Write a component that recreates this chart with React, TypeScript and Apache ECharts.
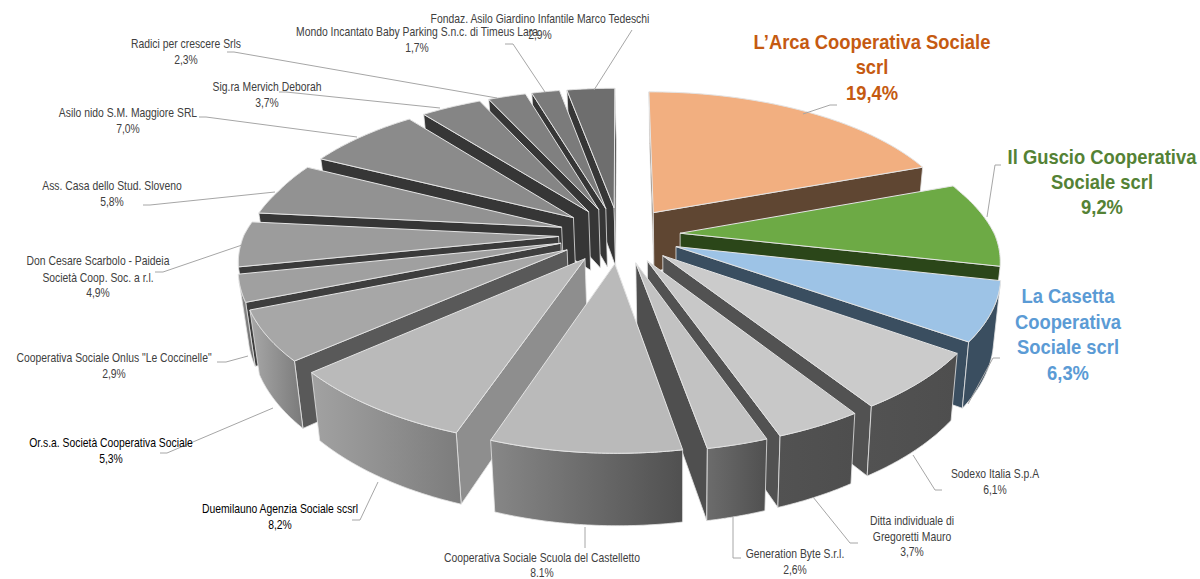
import React, { useEffect, useRef } from "react";
import * as echarts from "echarts";

// Quota per ente, clockwise from twelve o'clock
const sliceNames = [
  "L\u2019Arca Cooperativa Sociale scrl",
  "Il Guscio Cooperativa Sociale scrl",
  "La Casetta Cooperativa Sociale scrl",
  "Sodexo Italia S.p.A",
  "Ditta individuale di Gregoretti Mauro",
  "Generation Byte S.r.l.",
  "Cooperativa Sociale Scuola del Castelletto",
  "Duemilauno Agenzia Sociale scsrl",
  "Or.s.a. Societ\u00e0 Cooperativa Sociale",
  'Cooperativa Sociale Onlus "Le Coccinelle"',
  "Don Cesare Scarbolo - Paideia Societ\u00e0 Coop. Soc. a r.l.",
  "Ass. Casa dello Stud. Sloveno",
  "Asilo nido S.M. Maggiore SRL",
  "Sig.ra Mervich Deborah",
  "Radici per crescere Srls",
  "Mondo Incantato Baby Parking S.n.c. di Timeus Lara",
  "Fondaz. Asilo Giardino Infantile Marco Tedeschi",
];
const sliceValues = [19.4, 9.2, 6.3, 6.1, 3.7, 2.6, 8.1, 8.2, 5.3, 2.9, 4.9, 5.8, 7.0, 3.7, 2.3, 1.7, 2.9];
const percentLabels = [
  "19,4%", "9,2%", "6,3%", "6,1%", "3,7%", "2,6%", "8.1%", "8,2%", "5,3%",
  "2,9%", "4,9%", "5,8%", "7,0%", "3,7%", "2,3%", "1,7%", "2,9%",
];

// Face colours per slice: top, rim from left to right, radial wall
const topColors = [
  "#F2AF80", "#6DAA45", "#9DC3E6", "#CBCBCB", "#C8C8C8", "#C2C2C2", "#BABABA", "#BABABA", "#A7A7A7",
  "#A0A0A0", "#9C9C9C", "#929292", "#8B8B8B", "#858585", "#808080", "#7B7B7B", "#6E6E6E",
];
const rimLeftColors = [
  "#5F4632", "#2B4619", "#3A4E60", "#525252", "#525252", "#6C6C6C", "#878787", "#A2A2A2", "#A8A8A8",
  "#8E8E8E", "#777777", "#666666", "#555555", "#4A4A4A", "#444444", "#404040", "#3A3A3A",
];
const rimRightColors = [
  "#5F4632", "#2B4619", "#3A4E60", "#4E4E4E", "#4E4E4E", "#505050", "#505050", "#7C7C7C", "#7A7A7A",
  "#6C6C6C", "#666666", "#555555", "#4A4A4A", "#444444", "#404040", "#3A3A3A", "#333333",
];
const wallColors = [
  "#5F4632", "#2B4619", "#3A4E60", "#525252", "#525252", "#4F4F4F", "#707070", "#8E8E8E", "#595959",
  "#3E3E3E", "#3A3A3A", "#363636", "#363636", "#363636", "#363636", "#363636", "#363636",
];

// Perspective model of the exploded pie
const CX = 619.5;
const CY = 235;
const RADIUS = 310;
const EXPLODE = 60;
const FLATTEN = 0.465;
const PERSPECTIVE = 0.000465;
const THICKNESS = 60;
const VANISH_X = 680;
const FRONT_REACH = 350;
const RIM_STEPS = 48;

const total = sliceValues.reduce((a, b) => a + b, 0);
const sliceAngles = sliceValues.map((_, i) => {
  const before = sliceValues.slice(0, i).reduce((a, b) => a + b, 0);
  return [(before / total) * Math.PI * 2, ((before + sliceValues[i]) / total) * Math.PI * 2];
});

type Pt = [number, number];

function project(X: number, Y: number): { top: Pt; bottom: Pt } {
  const s = 1 / (1 - PERSPECTIVE * Y);
  const front = Math.max(0, Y) / FRONT_REACH;
  const side = Math.min(1, Math.max(0, (Y + 100) / 100));
  const widen = 1 + 0.015 * side + 0.015 * front;
  const x = CX + X * s * widen + 3 * front;
  const y = CY + FLATTEN * Y * s + 9 * front * front * front;
  return { top: [x, y], bottom: [x + (VANISH_X - x) * 0.022, y + THICKNESS * s] };
}

function shoelace(p: Pt[]) {
  let a = 0;
  for (let i = 0; i < p.length; i++) {
    const q = p[(i + 1) % p.length];
    a += p[i][0] * q[1] - q[0] * p[i][1];
  }
  return a;
}

const EDGE = "#E4E4E4";

function renderSlice(_params: any, api: any) {
  const index = api.value(0);
  const order = api.value(1);
  const [a0, a1] = sliceAngles[index];
  const mid = (a0 + a1) / 2;
  const ox = EXPLODE * Math.sin(mid);
  const oy = -EXPLODE * Math.cos(mid);
  const apex = project(ox, oy);
  const rim: { top: Pt; bottom: Pt }[] = [];
  for (let i = 0; i <= RIM_STEPS; i++) {
    const t = a0 + ((a1 - a0) * i) / RIM_STEPS;
    rim.push(project(ox + RADIUS * Math.sin(t), oy - RADIUS * Math.cos(t)));
  }
  const children: any[] = [];
  const addWall = (p: { top: Pt; bottom: Pt }, q: { top: Pt; bottom: Pt }) => {
    const quad = [p.top, q.top, q.bottom, p.bottom];
    if (shoelace(quad) < 0) {
      children.push({
        type: "polygon",
        shape: { points: quad },
        z2: order * 10 + 1,
        style: { fill: wallColors[index], stroke: EDGE, lineWidth: 0.8 },
      });
    }
  };
  addWall(apex, rim[0]);
  addWall(rim[RIM_STEPS], apex);

  // Outer rim: the run of segments turned towards the viewer
  const visible: { top: Pt; bottom: Pt }[] = [];
  for (let i = 0; i < RIM_STEPS; i++) {
    const quad = [rim[i].top, rim[i + 1].top, rim[i + 1].bottom, rim[i].bottom];
    if (shoelace(quad) < 0) {
      if (!visible.length) visible.push(rim[i]);
      visible.push(rim[i + 1]);
    }
  }
  if (visible.length > 1) {
    children.push({
      type: "polygon",
      shape: { points: [...visible.map((r) => r.top), ...visible.slice().reverse().map((r) => r.bottom)] },
      z2: order * 10 + 2,
      style: {
        fill: {
          type: "linear", x: 0, y: 0, x2: 1, y2: 0,
          colorStops: [
            { offset: 0, color: rimLeftColors[index] },
            { offset: 1, color: rimRightColors[index] },
          ],
        },
        stroke: EDGE,
        lineWidth: 0.8,
      },
    });
  }
  children.push({
    type: "polygon",
    shape: { points: [apex.top, ...rim.map((r) => r.top)] },
    z2: order * 10 + 3,
    style: { fill: topColors[index], stroke: EDGE, lineWidth: 1 },
  });
  return { type: "group", children };
}

// Paint from the back of the pie to the front
const paintOrder = sliceValues
  .map((_, i) => i)
  .sort((a, b) => {
    const ma = (sliceAngles[a][0] + sliceAngles[a][1]) / 2;
    const mb = (sliceAngles[b][0] + sliceAngles[b][1]) / 2;
    return -Math.cos(ma) - -Math.cos(mb);
  });

// Label placement: centre x, centre y of each line
const GREY = "#404040";
const labelLayout: { lines: string[]; x: number; ys: number[]; color?: string; big?: boolean; strong?: boolean }[] = [
  { lines: ["L\u2019Arca Cooperativa Sociale", "scrl"], x: 872, ys: [42, 67, 93], color: "#C55A11", big: true },
  { lines: ["Il Guscio Cooperativa", "Sociale scrl"], x: 1102, ys: [157, 182, 207], color: "#548235", big: true },
  { lines: ["La Casetta", "Cooperativa", "Sociale scrl"], x: 1068, ys: [296, 322, 347, 373], color: "#5B9BD5", big: true },
  { lines: ["Sodexo Italia S.p.A"], x: 995, ys: [474, 490] },
  { lines: ["Ditta individuale di", "Gregoretti Mauro"], x: 912, ys: [521, 537, 552] },
  { lines: ["Generation Byte S.r.l."], x: 795, ys: [554, 570] },
  { lines: ["Cooperativa Sociale Scuola del Castelletto"], x: 542, ys: [558, 573] },
  { lines: ["Duemilauno Agenzia Sociale scsrl"], x: 280, ys: [509, 525], strong: true },
  { lines: ["Or.s.a. Societ\u00e0 Cooperativa Sociale"], x: 111, ys: [443, 459], strong: true },
  { lines: ['Cooperativa Sociale Onlus "Le Coccinelle"'], x: 114, ys: [358, 374] },
  { lines: ["Don Cesare Scarbolo - Paideia", "Societ\u00e0 Coop. Soc. a r.l."], x: 98, ys: [261, 278, 293] },
  { lines: ["Ass. Casa dello Stud. Sloveno"], x: 112, ys: [186, 202] },
  { lines: ["Asilo nido S.M. Maggiore SRL"], x: 128, ys: [113, 129] },
  { lines: ["Sig.ra Mervich Deborah"], x: 267, ys: [87, 103] },
  { lines: ["Radici per crescere Srls"], x: 186, ys: [44, 60] },
  { lines: ["Mondo Incantato Baby Parking S.n.c. di Timeus Lara"], x: 417, ys: [32, 48] },
  { lines: ["Fondaz. Asilo Giardino Infantile Marco Tedeschi"], x: 540, ys: [19, 35] },
];

// Leader lines from the labels to the slices
const leaderPaths: Pt[][] = [
  [[837, 105], [830, 105], [803, 114]],
  [[1001, 165], [995, 165], [987, 217]],
  [[1000, 358], [993, 358], [968, 404]],
  [[942, 490], [935, 490], [913, 455]],
  [[858, 543], [850, 543], [813, 497]],
  [[741, 558], [733, 558], [733, 517]],
  [[585, 548], [585, 527]],
  [[352, 520], [360, 520], [378, 482]],
  [[160, 453], [167, 453], [273, 408]],
  [[217, 362], [226, 362], [248, 356]],
  [[155, 272], [163, 272], [242, 245]],
  [[143, 205], [150, 205], [275, 192]],
  [[199, 117], [206, 117], [357, 137]],
  [[279, 92], [286, 92], [440, 108]],
  [[227, 52], [234, 52], [497, 98]],
  [[505, 44], [513, 44], [545, 92]],
  [[632, 30], [594, 90]],
];

const NARROW_SMALL = 0.865;
const NARROW_BIG = 0.875;

function annotationElements() {
  const out: any[] = [];
  leaderPaths.forEach((points) => {
    out.push({
      type: "polyline",
      shape: { points },
      z: 20,
      style: { stroke: "#A6A6A6", lineWidth: 1, fill: "none" },
    });
  });
  labelLayout.forEach((label, i) => {
    const lines = [...label.lines, percentLabels[i]];
    lines.forEach((text, k) => {
      out.push({
        type: "text",
        x: label.x,
        y: label.ys[k],
        scaleX: label.big ? NARROW_BIG : NARROW_SMALL,
        z: 30,
        style: {
          text,
          fontFamily: '"Liberation Sans", sans-serif',
          fontSize: label.big ? 21 : 12,
          fontWeight: label.big ? "bold" : "normal",
          fill: label.color || (label.strong ? "#000000" : GREY),
          align: "center",
          verticalAlign: "middle",
          textAlign: "center",
          textVerticalAlign: "middle",
        },
      });
    });
  });
  return out;
}

export default function App() {
  const ref = useRef<HTMLDivElement>(null);
  useEffect(() => {
    const chart = echarts.init(ref.current!, undefined, { renderer: "svg" });
    chart.setOption({
      animation: false,
      backgroundColor: "#FFFFFF",
      graphic: { elements: annotationElements() },
      series: [
        {
          type: "custom",
          coordinateSystem: "none",
          silent: true,
          renderItem: renderSlice,
          data: paintOrder.map((index, order) => ({
            name: sliceNames[index],
            value: [index, order, sliceValues[index]],
          })),
        },
      ],
    });
    return () => chart.dispose();
  }, []);
  return <div ref={ref} style={{ position: "fixed", left: 0, top: 0, width: 1200, height: 579 }} />;
}
